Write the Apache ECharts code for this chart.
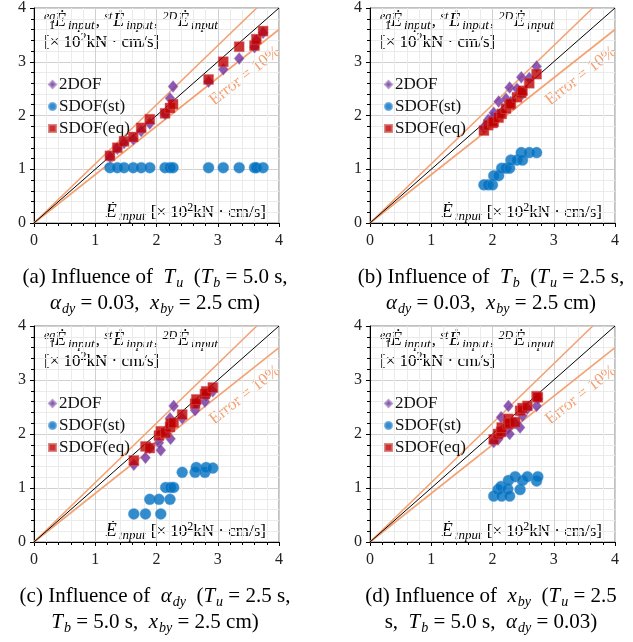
<!DOCTYPE html>
<html>
<head>
<meta charset="utf-8">
<script src="https://cdn.jsdelivr.net/npm/echarts@6/dist/echarts.min.js"></script>
<style>html,body{margin:0;padding:0;background:#fff;}#c{width:633px;height:642px;}</style>
</head>
<body>
<div id="c"></div>
<script>
// ---- data (x = Ė_input, y = estimates) ----
const xA = [1.24,1.36,1.47,1.62,1.75,1.89,2.14,2.22,2.27,2.85,3.09,3.35,3.60,3.63,3.74];
const dofA = [1.23,1.38,1.49,1.56,1.71,1.85,2.03,2.32,2.54,2.63,2.86,3.06,3.27,3.40,3.54];
const stA  = [1.03,1.03,1.03,1.03,1.03,1.03,1.03,1.03,1.03,1.03,1.03,1.03,1.03,1.03,1.03];
const eqA  = [1.25,1.40,1.52,1.60,1.77,1.93,2.04,2.14,2.21,2.67,3.00,3.28,3.30,3.42,3.57];

const xB = [1.86,1.93,2.00,2.02,2.10,2.15,2.22,2.28,2.30,2.40,2.47,2.49,2.60,2.72];
const dofB = [1.78,1.92,1.96,2.05,2.26,2.05,2.31,2.52,2.25,2.50,2.71,2.40,2.70,2.91];
const stB  = [0.71,0.71,0.71,0.88,0.88,1.02,1.02,1.02,1.17,1.17,1.31,1.17,1.31,1.31];
const eqB  = [1.72,1.82,1.86,1.88,1.96,2.03,2.13,2.20,2.22,2.34,2.42,2.46,2.60,2.77];

const xC = [1.63,1.82,1.89,2.04,2.07,2.15,2.22,2.23,2.28,2.42,2.63,2.65,2.79,2.81,2.92];
const dofC = [1.43,1.56,1.74,1.84,1.70,2.05,2.29,1.91,2.52,2.29,2.44,2.56,2.60,2.70,2.79];
const stC  = [0.52,0.52,0.79,0.79,0.52,1.01,0.79,1.01,1.01,1.29,1.29,1.38,1.29,1.38,1.37];
const eqC  = [1.51,1.77,1.74,1.97,2.05,2.02,2.13,2.19,2.21,2.36,2.56,2.64,2.74,2.79,2.86];

const xD = [2.02,2.09,2.14,2.15,2.25,2.26,2.28,2.37,2.45,2.49,2.57,2.72,2.74];
const dofD = [1.85,1.90,2.31,2.00,2.10,2.52,2.00,2.20,2.12,2.34,2.47,2.52,2.65];
const stD  = [0.85,0.97,1.03,0.85,0.98,1.14,0.85,1.21,0.97,1.14,1.21,1.13,1.21];
const eqD  = [1.90,2.00,2.04,2.12,2.18,2.28,2.20,2.22,2.43,2.48,2.52,2.70,2.68];

const lineEqual = [[0,0],[4,4]];
const lineUpper = [[0,0],[3.636,4]];
const lineLower = [[0,0],[4,3.6]];
const axisTicks = [0,1,2,3,4];
const seriesNames = ['2DOF','SDOF(st)','SDOF(eq)'];

const panels = [
  {x:xA, d:dofA, s:stA, e:eqA},
  {x:xB, d:dofB, s:stB, e:eqB},
  {x:xC, d:dofC, s:stC, e:eqC},
  {x:xD, d:dofD, s:stD, e:eqD}
];
const offs = [[0,0],[336,0],[0,319],[336,319]];

const SERIF = '"Liberation Serif","Times New Roman",serif';
const ORANGE = '#F4A172';
const PURPLE = '#7030A0', BLUE = '#0070C0', RED = '#C00000';

const grids=[], xAxes=[], yAxes=[], series=[], legends=[], graphics=[];

const C = '#111';
const richBase = {
  n:{fontFamily:SERIF,fontSize:17,lineHeight:21,color:C},
  m:{fontFamily:SERIF,fontStyle:'italic',fontSize:18,lineHeight:21,color:C},
  sub:{fontFamily:SERIF,fontStyle:'italic',fontSize:13,lineHeight:10,verticalAlign:'bottom',color:C,padding:[0,1,0,2]},
  subn:{fontFamily:SERIF,fontSize:12,lineHeight:10,verticalAlign:'bottom',color:C},
  sup:{fontFamily:SERIF,fontStyle:'italic',fontSize:12,lineHeight:10,verticalAlign:'top',color:C,padding:[0,1,0,0]},
  supn:{fontFamily:SERIF,fontSize:12,lineHeight:11,verticalAlign:'top',color:C},
  supw:{fontFamily:SERIF,fontStyle:'italic',fontSize:12,lineHeight:10,verticalAlign:'top',width:5,color:C}
};
const richCap = {
  n:{fontFamily:SERIF,fontSize:21,lineHeight:26,color:C},
  m:{fontFamily:SERIF,fontStyle:'italic',fontSize:21,lineHeight:26,color:C},
  sub:{fontFamily:SERIF,fontStyle:'italic',fontSize:14,lineHeight:12,verticalAlign:'bottom',color:C,padding:[0,0,0,1]}
};

const captions = [
  ['{n|(a) Influence of  }{m|T}{sub|u}{n|  (}{m|T}{sub|b}{n| = 5.0 s,}',
   '{m|α}{sub|dy}{n| = 0.03,  }{m|x}{sub|by}{n| = 2.5 cm)}'],
  ['{n|(b) Influence of  }{m|T}{sub|b}{n|  (}{m|T}{sub|u}{n| = 2.5 s,}',
   '{m|α}{sub|dy}{n| = 0.03,  }{m|x}{sub|by}{n| = 2.5 cm)}'],
  ['{n|(c) Influence of  }{m|α}{sub|dy}{n|  (}{m|T}{sub|u}{n| = 2.5 s,}',
   '{m|T}{sub|b}{n| = 5.0 s,  }{m|x}{sub|by}{n| = 2.5 cm)}'],
  ['{n|(d) Influence of  }{m|x}{sub|by}{n|  (}{m|T}{sub|u}{n| = 2.5}',
   '{n|s,  }{m|T}{sub|b}{n| = 5.0 s,  }{m|α}{sub|dy}{n| = 0.03)}']
];
const unitText = '{n|[× 10}{supn|2}{n|kN · cm/s]}';

panels.forEach((p,i)=>{
  const [ox,oy] = offs[i];
  grids.push({left:34+ox, top:7+oy, width:245, height:216, show:true, borderColor:'#808080', borderWidth:1, backgroundColor:'transparent'});
  const ax = {
    gridIndex:i, type:'value', min:axisTicks[0], max:axisTicks[axisTicks.length-1], interval:1,
    axisLine:{show:true, onZero:false, lineStyle:{color:'#000',width:1}},
    axisTick:{show:true, inside:false, length:4, lineStyle:{color:'#000'}},
    minorTick:{show:true, splitNumber:5, length:3, lineStyle:{color:'#000'}},
    splitLine:{show:true, lineStyle:{color:'#d0d0d0',width:1}},
    minorSplitLine:{show:true, lineStyle:{color:'#ebebeb',width:1}},
    axisLabel:{fontFamily:SERIF, fontSize:16, color:'#222', margin:9}
  };
  xAxes.push(Object.assign({}, ax, {axisLabel:Object.assign({},ax.axisLabel,{margin:10})}));
  yAxes.push(Object.assign({}, ax, {axisLabel:Object.assign({},ax.axisLabel,{margin:8})}));

  const lineS = (data,color,w)=>({type:'line', xAxisIndex:i, yAxisIndex:i, data:data, symbol:'none', silent:true,
      lineStyle:{color:color,width:w}, z:1, animation:false, clip:true});
  series.push(lineS(lineUpper, ORANGE, 1.6));
  series.push(lineS(lineLower, ORANGE, 1.6));
  series.push(lineS(lineEqual, '#000', 1));

  const pts = (ys)=>p.x.map((v,k)=>[v,ys[k]]);
  series.push({name:seriesNames[0], type:'scatter', xAxisIndex:i, yAxisIndex:i, data:pts(p.d),
    symbol:'diamond', symbolSize:[10,12], itemStyle:{color:PURPLE, borderColor:'#a78bc4', borderWidth:0.5}, z:3, animation:false});
  series.push({name:seriesNames[1], type:'scatter', xAxisIndex:i, yAxisIndex:i, data:pts(p.s),
    symbol:'circle', symbolSize:11, itemStyle:{color:BLUE, borderColor:'#5a9ed8', borderWidth:0.5}, z:2, animation:false});
  series.push({name:seriesNames[2], type:'scatter', xAxisIndex:i, yAxisIndex:i, data:pts(p.e),
    symbol:'rect', symbolSize:10, itemStyle:{color:RED, borderColor:'#d66a6a', borderWidth:0.5}, z:4, animation:false});

  legends.push({orient:'vertical', left:43+ox, top:71+oy, itemGap:5, itemWidth:7, itemHeight:7,
    data:seriesNames.map(n=>({name:n})), selectedMode:false,
    textStyle:{fontFamily:SERIF, fontSize:17, color:C, padding:[0,0,0,-2]}});

  // axis titles
  graphics.push({type:'text', left:44+ox, top:11+oy, silent:true, style:{
    text:'{supw|eq}{subn|1}{m|Ė}{sub|input}{n|, }{sup|st}{m|Ė}{sub|input}{n|, }{sup|2D}{m|Ė}{sub|input}\n'+unitText,
    rich:richBase}});
  graphics.push({type:'text', right:(633-266-ox), top:202+oy, silent:true, style:{
    text:'{m|Ė}{sub|input}{n| }'+unitText, rich:richBase, align:'right'}});
  // error label
  graphics.push({type:'text', x:245+ox, y:76+oy, rotation:38*Math.PI/180, silent:true, style:{
    text:'Error = 10%', fontFamily:SERIF, fontSize:17, fill:ORANGE, align:'center', verticalAlign:'middle'}});
  // caption
  graphics.push({type:'text', x:155+ox, y:264+oy, silent:true, style:{
    text:captions[i].join('\n'), rich:richCap, align:'center', verticalAlign:'top'}});
});

const chart = echarts.init(document.getElementById('c'), null, {renderer:'canvas'});
chart.setOption({
  animation:false,
  backgroundColor:'#fff',
  grid:grids, xAxis:xAxes, yAxis:yAxes, series:series, legend:legends,
  graphic:graphics
});
</script>
</body>
</html>
